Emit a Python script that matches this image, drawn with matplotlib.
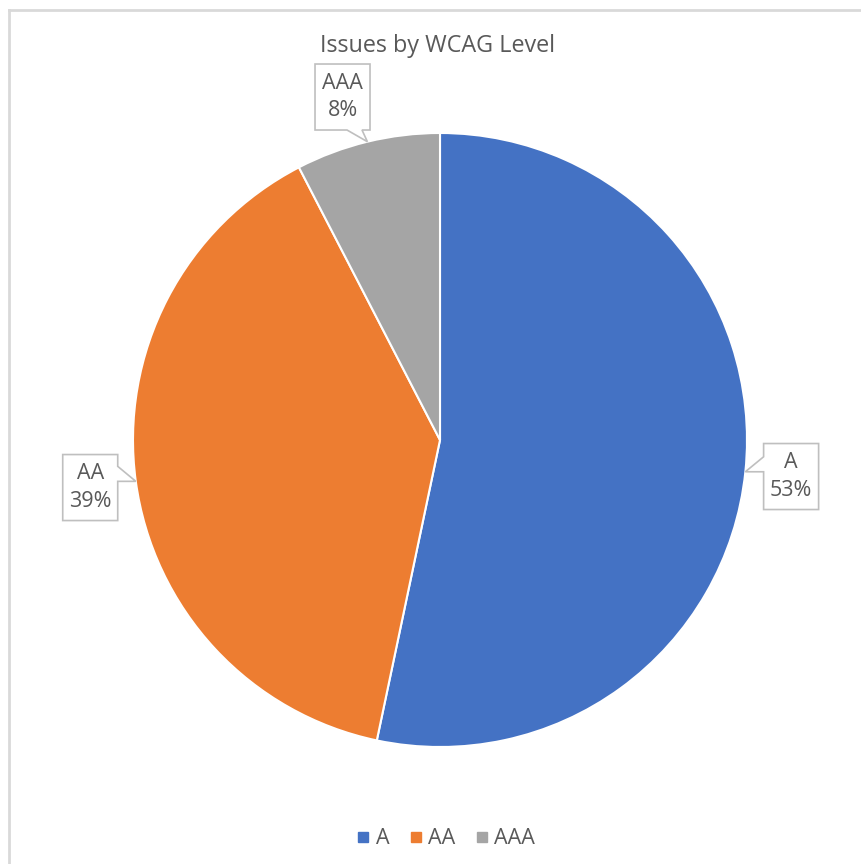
import numpy as np
import matplotlib.pyplot as plt
from matplotlib.lines import Line2D
from matplotlib.patches import Polygon

levels = ["A", "AA", "AAA"]
share = [53.3, 39.1, 7.6]
colors = ["#4472C4", "#ED7D31", "#A5A5A5"]

plt.rcParams['font.family'] = ['Open Sans', 'DejaVu Sans']
TXT = "#595959"

W, H = 862, 864
fig = plt.figure(figsize=(W / 100, H / 100), dpi=100)
ax = fig.add_axes([0, 0, 1, 1])

cx, cy, R = 440, H - 440, 307
wedges, _ = ax.pie(share, colors=colors, startangle=90, counterclock=False,
                   center=(cx, cy), radius=R,
                   wedgeprops=dict(edgecolor="white", linewidth=1.5))
ax.set_xlim(0, W)
ax.set_ylim(0, H)
ax.axis("off")

# chart area border (cut off at right/bottom like the screenshot)
ax.add_line(Line2D([9.5, 9.5], [0, H - 10], color="#D9D9D9", lw=2))
ax.add_line(Line2D([9.5, W], [H - 10, H - 10], color="#D9D9D9", lw=2))

ax.text(cx - 2, H - 46, "Issues by WCAG Level", ha="center", va="center",
        fontsize=16.8, color=TXT)

# callout labels
bw, bh = 55, 66
nudge = [(0, 0), (0, 0), (-14, 0)]
for w, lab, val, nd in zip(wedges, levels, share, nudge):
    mid = np.deg2rad((w.theta1 + w.theta2) / 2)
    tx, ty = cx + R * np.cos(mid), cy + R * np.sin(mid)
    bx = cx + 353 * np.cos(mid) + nd[0]
    by = cy + 353 * np.sin(mid) + nd[1]
    l, r, b, t = bx - bw / 2, bx + bw / 2, by - bh / 2, by + bh / 2
    if tx < l:      # pointer on left edge
        p = min(max(ty, b + 8), t - 12)
        pts = [(l, t), (r, t), (r, b), (l, b), (l, p), (tx, ty), (l, p + 15)]
    elif tx > r:    # right edge
        p = min(max(ty, b + 8), t - 12)
        pts = [(l, t), (r, t), (r, p + 15), (tx, ty), (r, p), (r, b), (l, b)]
    else:           # bottom edge
        p = min(max(tx, l + 15), r - 8)
        pts = [(l, t), (r, t), (r, b), (p, b), (tx, ty), (p - 15, b), (l, b)]
    ax.add_patch(Polygon(pts, closed=True, facecolor="white",
                         edgecolor="#BFBFBF", lw=1.2, zorder=5))
    ax.text(bx, by, f"{lab}\n{round(val):d}%", ha="center", va="center",
            fontsize=15.5, color=TXT, linespacing=1.4, zorder=6)

handles = [Line2D([], [], marker="s", ls="", color=c, markersize=7)
           for c in colors]
leg = ax.legend(handles, levels, loc="center", bbox_to_anchor=(446 / W, 25 / H),
                ncol=3, frameon=False, fontsize=15.5, handlelength=0.6,
                handletextpad=0.3, columnspacing=0.9, labelcolor=TXT)

fig.savefig("out.png", dpi=100)
